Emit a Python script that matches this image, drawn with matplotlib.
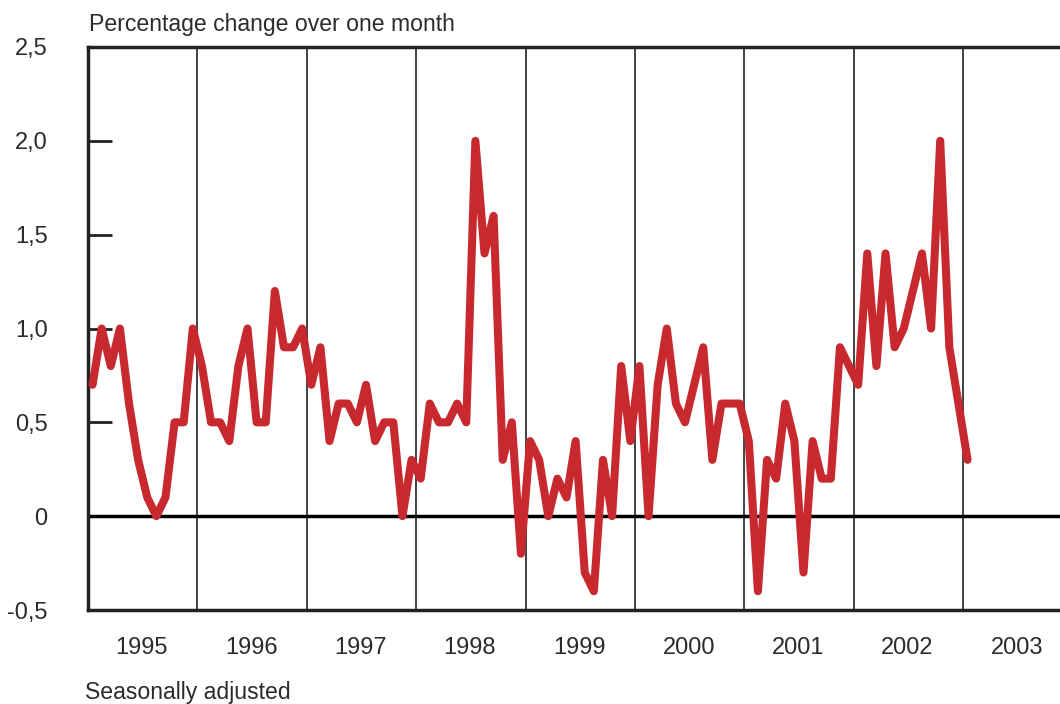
import numpy as np
import matplotlib
matplotlib.use("Agg")
import matplotlib.pyplot as plt

plt.rcParams['font.family'] = ['Liberation Sans', 'DejaVu Sans']

# monthly change, Jan 1995 .. Jan 2003
vals_1995 = [0.7, 1.0, 0.8, 1.0, 0.6, 0.3, 0.1, 0.0, 0.1, 0.5, 0.5, 1.0]
vals_1996 = [0.8, 0.5, 0.5, 0.4, 0.8, 1.0, 0.5, 0.5, 1.2, 0.9, 0.9, 1.0]
vals_1997 = [0.7, 0.9, 0.4, 0.6, 0.6, 0.5, 0.7, 0.4, 0.5, 0.5, 0.0, 0.3]
vals_1998 = [0.2, 0.6, 0.5, 0.5, 0.6, 0.5, 2.0, 1.4, 1.6, 0.3, 0.5, -0.2]
vals_1999 = [0.4, 0.3, 0.0, 0.2, 0.1, 0.4, -0.3, -0.4, 0.3, 0.0, 0.8, 0.4]
vals_2000 = [0.8, 0.0, 0.7, 1.0, 0.6, 0.5, 0.7, 0.9, 0.3, 0.6, 0.6, 0.6]
vals_2001 = [0.4, -0.4, 0.3, 0.2, 0.6, 0.4, -0.3, 0.4, 0.2, 0.2, 0.9, 0.8]
vals_2002 = [0.7, 1.4, 0.8, 1.4, 0.9, 1.0, 1.2, 1.4, 1.0, 2.0, 0.9, 0.6]
vals_2003 = [0.3]

years = ["1995", "1996", "1997", "1998", "1999", "2000", "2001", "2002", "2003"]
ytick_vals = [-0.5, 0, 0.5, 1.0, 1.5, 2.0, 2.5]
ytick_labels = ["-0,5", "0", "0,5", "1,0", "1,5", "2,0", "2,5"]

values = (vals_1995 + vals_1996 + vals_1997 + vals_1998 + vals_1999
          + vals_2000 + vals_2001 + vals_2002 + vals_2003)
x = np.arange(len(values)) + 0.5  # mid-month

txt = '#2b2b2b'

fig = plt.figure(figsize=(10.6, 7.04), dpi=100)
ax = fig.add_axes([88 / 1060, 1 - 610 / 704, 1 - 88 / 1060, (610 - 47) / 704])

# year separators
for k in range(1, 9):
    ax.axvline(12 * k, color='#333333', lw=1.3, zorder=1)
ax.axhline(0, color='black', lw=2.5, zorder=2)

ax.plot(x, values, color='#C8292F', lw=5.8, solid_joinstyle='round',
        solid_capstyle='round', zorder=3)

ax.set_xlim(0, (1060 - 88) / ((963 - 88) / 96))
ax.set_ylim(-0.5, 2.5)

ax.set_yticks(ytick_vals)
ax.set_yticklabels(ytick_labels)
ax.tick_params(axis='y', direction='in', length=17, width=2, color='#222222',
               pad=29, labelsize=17, labelcolor=txt)

ax.set_xticks([])
for i, yr in enumerate(years):
    ax.text(12 * i + 5.9, -0.5 - 0.205, yr, ha='center', va='center',
            fontsize=17, color=txt)

for side in ['left', 'top', 'bottom']:
    ax.spines[side].set_linewidth(2.5)
    ax.spines[side].set_color('#222222')
ax.spines['right'].set_visible(False)

fig.text(89 / 1060, 1 - 24 / 704, "Percentage change over one month",
         ha='left', va='center', fontsize=16.6, color=txt)
fig.text(85 / 1060, 1 - 692 / 704, "Seasonally adjusted",
         ha='left', va='center', fontsize=16.6, color=txt)

fig.savefig("out.png", dpi=100)
